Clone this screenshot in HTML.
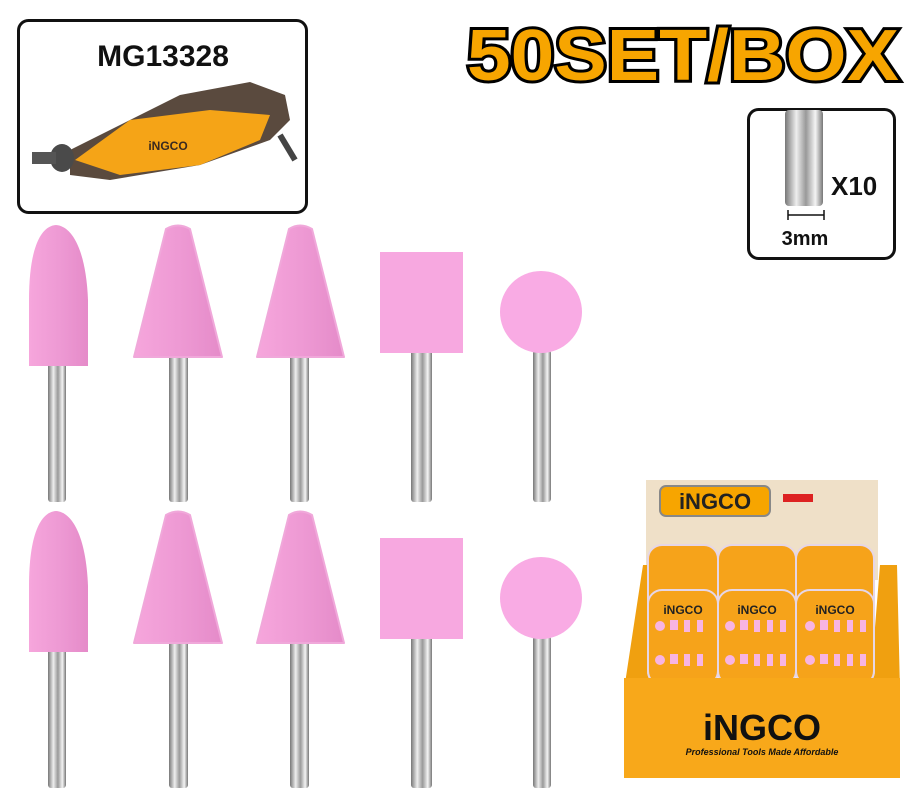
<!DOCTYPE html>
<html><head><meta charset="utf-8"><style>
html,body{margin:0;padding:0;background:#fff;width:923px;height:800px;overflow:hidden}
</style></head><body>
<svg width="923" height="800" viewBox="0 0 923 800" xmlns="http://www.w3.org/2000/svg" font-family="Liberation Sans, sans-serif">
<defs>
<linearGradient id="sh" x1="0" x2="1"><stop offset="0" stop-color="#777"/><stop offset=".3" stop-color="#eee"/><stop offset=".55" stop-color="#999"/><stop offset=".8" stop-color="#f4f4f4"/><stop offset="1" stop-color="#777"/></linearGradient>
<linearGradient id="pk" x1="0" x2="1"><stop offset="0" stop-color="#f6a6dc"/><stop offset=".5" stop-color="#ee9ad4"/><stop offset="1" stop-color="#e58bc9"/></linearGradient>
<g id="row">
 <rect x="48" y="360" width="18" height="142" rx="3" fill="url(#sh)"/>
 <path d="M29,366 L29,300 C29,250 40,226 56,225 C72,226 86,250 88,300 L88,366 Z" fill="url(#pk)"/>
 <rect x="169" y="350" width="19" height="152" rx="3" fill="url(#sh)"/>
 <path d="M134,357 L166,229 Q178,222 190,229 L222,357 Z" fill="url(#pk)" stroke="#f0a8da" stroke-width="2" stroke-linejoin="round"/>
 <rect x="290" y="350" width="19" height="152" rx="3" fill="url(#sh)"/>
 <path d="M257,357 L289,229 Q300,222 312,229 L344,357 Z" fill="url(#pk)" stroke="#f0a8da" stroke-width="2" stroke-linejoin="round"/>
 <rect x="411" y="350" width="21" height="152" rx="3" fill="url(#sh)"/>
 <rect x="380" y="252" width="83" height="101" fill="#f7a8e0"/>
 <rect x="533" y="350" width="18" height="152" rx="3" fill="url(#sh)"/>
 <circle cx="541" cy="312" r="41" fill="#f9abe4"/>
</g>
</defs>
<rect x="18.5" y="20.5" width="288" height="192" rx="10" fill="#fff" stroke="#111" stroke-width="3"/>
<text x="163" y="66" text-anchor="middle" font-size="30" font-weight="bold" fill="#111">MG13328</text>
<g>
 <path d="M70,150 L180,95 L250,82 L285,95 L290,120 L270,140 L200,165 L110,180 L70,175 Z" fill="#5a4a3e"/>
 <path d="M75,160 L130,120 L210,110 L270,115 L260,140 L200,165 L120,175 Z" fill="#f5a417"/>
 <text x="168" y="150" text-anchor="middle" font-size="12" font-weight="bold" fill="#3a2a20">iNGCO</text>
 <ellipse cx="62" cy="158" rx="12" ry="14" fill="#4a4a4a"/>
 <rect x="32" y="152" width="24" height="12" fill="#555"/>
 <path d="M280,135 L295,160" stroke="#444" stroke-width="6"/>
</g>
<text x="467" y="80" font-size="72" font-weight="bold" fill="#f7a500" stroke="#000" stroke-width="6" paint-order="stroke" textLength="432" lengthAdjust="spacingAndGlyphs">50SET/BOX</text>
<rect x="748.5" y="109.5" width="146" height="149" rx="10" fill="#fff" stroke="#111" stroke-width="3"/>
<rect x="785" y="110" width="38" height="96" rx="4" fill="url(#sh)"/>
<text x="831" y="195" font-size="26" font-weight="bold" fill="#111">X10</text>
<path d="M788,215 H824 M788,210 V220 M824,210 V220" stroke="#111" stroke-width="1.5"/>
<text x="805" y="245" text-anchor="middle" font-size="20" font-weight="bold" fill="#111">3mm</text>
<use href="#row"/>
<use href="#row" y="286"/>
<rect x="646" y="480" width="232" height="100" fill="#efe0c8"/>
<rect x="660" y="486" width="110" height="30" rx="6" fill="#f7a500" stroke="#888" stroke-width="2"/>
<text x="715" y="509" text-anchor="middle" font-size="22" font-weight="bold" fill="#222">iNGCO</text>
<rect x="783" y="494" width="30" height="8" fill="#d22"/>
<path d="M643,565 L660,565 L660,690 L624,690 Z M880,565 L897,565 L900,690 L870,690 Z" fill="#f0a010"/>
<g fill="#f6a31a" stroke="#e6d6e6" stroke-width="2">
 <rect x="648" y="545" width="70" height="140" rx="14"/>
 <rect x="718" y="545" width="78" height="140" rx="14"/>
 <rect x="796" y="545" width="78" height="140" rx="14"/>
 <rect x="648" y="590" width="70" height="95" rx="14"/>
 <rect x="718" y="590" width="78" height="95" rx="14"/>
 <rect x="796" y="590" width="78" height="95" rx="14"/>
</g>
<text x="683" y="614" text-anchor="middle" font-size="12" font-weight="bold" fill="#222">iNGCO</text>
<text x="757" y="614" text-anchor="middle" font-size="12" font-weight="bold" fill="#222">iNGCO</text>
<text x="835" y="614" text-anchor="middle" font-size="12" font-weight="bold" fill="#222">iNGCO</text>
<g fill="#f8b4e2">
 <circle cx="660" cy="626" r="5"/><rect x="670" y="620" width="8" height="10"/><rect x="684" y="620" width="6" height="12"/><rect x="697" y="620" width="6" height="12"/>
 <circle cx="730" cy="626" r="5"/><rect x="740" y="620" width="8" height="10"/><rect x="754" y="620" width="6" height="12"/><rect x="767" y="620" width="6" height="12"/><rect x="780" y="620" width="6" height="12"/>
 <circle cx="810" cy="626" r="5"/><rect x="820" y="620" width="8" height="10"/><rect x="834" y="620" width="6" height="12"/><rect x="847" y="620" width="6" height="12"/><rect x="860" y="620" width="6" height="12"/>
 <circle cx="660" cy="660" r="5"/><rect x="670" y="654" width="8" height="10"/><rect x="684" y="654" width="6" height="12"/><rect x="697" y="654" width="6" height="12"/>
 <circle cx="730" cy="660" r="5"/><rect x="740" y="654" width="8" height="10"/><rect x="754" y="654" width="6" height="12"/><rect x="767" y="654" width="6" height="12"/><rect x="780" y="654" width="6" height="12"/>
 <circle cx="810" cy="660" r="5"/><rect x="820" y="654" width="8" height="10"/><rect x="834" y="654" width="6" height="12"/><rect x="847" y="654" width="6" height="12"/><rect x="860" y="654" width="6" height="12"/>
</g>
<rect x="624" y="678" width="276" height="100" fill="#f8a81a"/>
<text x="762" y="740" text-anchor="middle" font-size="36" font-weight="bold" fill="#111">iNGCO</text>
<text x="762" y="755" text-anchor="middle" font-size="9" font-weight="bold" font-style="italic" fill="#111">Professional Tools Made Affordable</text>
</svg>
</body></html>
